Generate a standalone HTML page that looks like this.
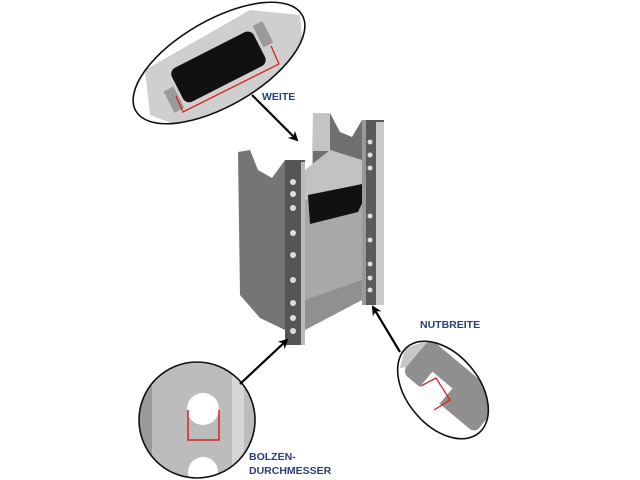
<!DOCTYPE html>
<html><head><style>body{margin:0;background:#fff}svg{display:block}text{font-family:"Liberation Sans",sans-serif;font-weight:bold;fill:#2b3e7a;font-size:10.5px}</style></head>
<body>
<svg width="640" height="480" viewBox="0 0 640 480">
<defs>
<marker id="ah" markerWidth="10" markerHeight="10" refX="8" refY="5" orient="auto" markerUnits="userSpaceOnUse"><path d="M0,0 L10,5 L0,10 L3,5 z" fill="#000"/></marker>
<clipPath id="c1"><ellipse cx="219" cy="63" rx="96" ry="43" transform="rotate(-30 219 63)"/></clipPath>
<clipPath id="c2"><circle cx="197" cy="420" r="58"/></clipPath>
<clipPath id="c3"><ellipse cx="443" cy="390" rx="56" ry="36" transform="rotate(50 443 390)"/></clipPath>
</defs>
<!-- top ellipse -->
<g clip-path="url(#c1)">
<rect x="100" y="0" width="240" height="140" fill="#fff"/>
<polygon points="145,70 250,10 300,15 305,70 190,130 150,115" fill="#cfcfcf"/>
<g transform="rotate(-27 218 66)"><rect x="172" y="48" width="92" height="38" rx="7" fill="#111"/>
<rect x="158" y="64" width="11" height="24" fill="#9a9a9a"/><rect x="267" y="46" width="11" height="24" fill="#9a9a9a"/></g>
<polyline points="176,96 183,112 279,64 271,46" fill="none" stroke="#d22" stroke-width="1.3"/>
</g>
<ellipse cx="219" cy="63" rx="96" ry="43" transform="rotate(-30 219 63)" fill="none" stroke="#111" stroke-width="1.6"/>
<text x="262" y="100">WEITE</text>
<line x1="252" y1="95" x2="297" y2="140" stroke="#000" stroke-width="2.2" marker-end="url(#ah)"/>
<!-- bracket -->
<polygon points="313,113 330,113 340,132 352,137 362,120 362,300 320,310 312,230" fill="#707070"/>
<rect x="313" y="113" width="17" height="38" fill="#c4c4c4"/>
<polygon points="305,195 362,180 362,300 305,325" fill="#a8a8a8"/>
<polygon points="305,170 330,150 362,160 362,185 305,200" fill="#c2c2c2"/>
<polygon points="238,152 250,150 258,170 272,178 285,160 285,330 260,318 240,295" fill="#757575"/>
<polygon points="305,300 362,280 362,300 305,330" fill="#909090"/>
<polygon points="308,195 372,182 358,212 310,224" fill="#111"/>
<rect x="285" y="160" width="20" height="185" fill="#555"/><rect x="301" y="162" width="4" height="183" fill="#bbb"/>
<rect x="362" y="120" width="22" height="185" fill="#5a5a5a"/><rect x="376" y="122" width="8" height="183" fill="#c9c9c9"/><rect x="362" y="120" width="4" height="185" fill="#999"/>
<g fill="#ddd"><circle cx="293" cy="182" r="3"/><circle cx="293" cy="194" r="3"/><circle cx="293" cy="208" r="3"/><circle cx="293" cy="233" r="3"/><circle cx="293" cy="255" r="3"/><circle cx="293" cy="280" r="3"/><circle cx="293" cy="303" r="3"/><circle cx="293" cy="318" r="3"/><circle cx="293" cy="331" r="3"/>
<circle cx="370" cy="142" r="2.5"/><circle cx="370" cy="155" r="2.5"/><circle cx="370" cy="168" r="2.5"/><circle cx="370" cy="216" r="2.5"/><circle cx="370" cy="240" r="2.5"/><circle cx="370" cy="264" r="2.5"/><circle cx="370" cy="278" r="2.5"/><circle cx="370" cy="290" r="2.5"/></g>
<!-- bottom circle -->
<g clip-path="url(#c2)">
<rect x="130" y="355" width="140" height="130" fill="#bcbcbc"/>
<rect x="140" y="355" width="12" height="130" fill="#9a9a9a"/><rect x="232" y="355" width="12" height="130" fill="#d6d6d6"/>
<circle cx="203" cy="409" r="16" fill="#fff"/><circle cx="203" cy="472" r="15" fill="#fff"/>
<polyline points="188,410 188,440 219,440 219,410" fill="none" stroke="#d22" stroke-width="1.5"/>
</g>
<circle cx="197" cy="420" r="58" fill="none" stroke="#111" stroke-width="1.6"/>
<line x1="240" y1="384" x2="287" y2="340" stroke="#000" stroke-width="2.2" marker-end="url(#ah)"/>
<text x="249" y="460">BOLZEN-</text><text x="249" y="474">DURCHMESSER</text>
<!-- right ellipse -->
<g clip-path="url(#c3)">
<rect x="380" y="330" width="130" height="120" fill="#fff"/>
<polygon points="405,348 430,340 425,365 400,368" fill="#c8c8c8"/>
<g transform="rotate(40 450 385)"><rect x="405" y="362" width="95" height="44" rx="7" fill="#8f8f8f"/><rect x="428" y="386" width="26" height="20" fill="#fff"/></g>
<polyline points="421,386 436,378 450,400 434,410" fill="none" stroke="#d22" stroke-width="1.3"/>
</g>
<ellipse cx="443" cy="390" rx="56" ry="36" transform="rotate(50 443 390)" fill="none" stroke="#111" stroke-width="1.6"/>
<text x="420" y="328">NUTBREITE</text>
<line x1="400" y1="352" x2="373" y2="307" stroke="#000" stroke-width="2.2" marker-end="url(#ah)"/>
</svg>
</body></html>
